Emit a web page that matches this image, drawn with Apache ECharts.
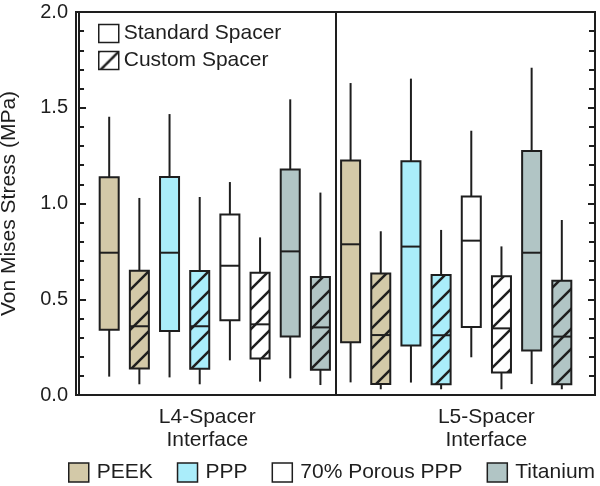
<!DOCTYPE html>
<html>
<head>
<meta charset="utf-8">
<script src="https://cdn.jsdelivr.net/npm/echarts@6/dist/echarts.min.js"></script>
<style>html,body{margin:0;padding:0;background:#fff}#c{width:600px;height:486px}</style>
</head>
<body>
<div id="c"></div>
<script>
// ---- data ----
const interfaces = ['L4-Spacer\nInterface', 'L5-Spacer\nInterface'];
const interfaceLabelPos = [4.25, 13.5];
const materials = ['PEEK', 'PPP', '70% Porous PPP', 'Titanium'];
const spacers = ['Standard Spacer', 'Custom Spacer'];
const yTicks = [0, 0.5, 1.0, 1.5, 2.0];
// each row: [min, q1, median, q3, max]; order: L4 std, L4 custom, L5 std, L5 custom
const peek = [
  [0.096, 0.341, 0.743, 1.137, 1.453],
  [0.056, 0.139, 0.359, 0.649, 1.029],
  [0.066, 0.275, 0.787, 1.224, 1.629],
  [0.030, 0.057, 0.313, 0.635, 0.855]
];
const ppp = [
  [0.092, 0.334, 0.743, 1.138, 1.467],
  [0.056, 0.137, 0.359, 0.648, 1.034],
  [0.065, 0.258, 0.775, 1.220, 1.652],
  [0.030, 0.056, 0.312, 0.627, 0.862]
];
const porousPPP = [
  [0.181, 0.390, 0.675, 0.943, 1.112],
  [0.070, 0.190, 0.369, 0.639, 0.823],
  [0.197, 0.355, 0.806, 1.037, 1.380],
  [0.030, 0.117, 0.348, 0.620, 0.776]
];
const titanium = [
  [0.087, 0.306, 0.750, 1.177, 1.544],
  [0.052, 0.132, 0.353, 0.616, 1.057],
  [0.057, 0.233, 0.743, 1.274, 1.709],
  [0.030, 0.056, 0.305, 0.597, 0.914]
];
const materialData = [peek, ppp, porousPPP, titanium];
const materialColors = ['#d3c9a8', '#aaedfa', '#ffffff', '#b1c5c5'];

// ---- styling helpers ----
const INK = '#1e1e1e';
function hatch(bg) {
  const T = 20;
  const cv = document.createElement('canvas');
  cv.width = T; cv.height = T;
  const g = cv.getContext('2d');
  g.fillStyle = bg; g.fillRect(0, 0, T, T);
  g.strokeStyle = INK; g.lineWidth = 2.5; g.lineCap = 'square';
  for (let k = -1; k <= 1; k++) {
    g.beginPath(); g.moveTo(k * T, T); g.lineTo(k * T + T, 0); g.stroke();
  }
  return { image: cv, repeat: 'repeat' };
}

const series = materials.map((name, m) => {
  const rows = materialData[m];
  const data = rows.map((r, j) => {
    const iface = Math.floor(j / 2), sp = j % 2;
    return [iface * 8 + m * 2 + sp + 1, r[0], r[1], r[2], r[3], r[4], sp];
  });
  const pat = hatch(materialColors[m]);
  return {
    name: name,
    type: 'custom',
    itemStyle: { color: materialColors[m] },
    encode: { x: 0, y: [1, 5] },
    data: data,
    renderItem: function (params, api) {
      const x = api.value(0);
      const w = api.size([0.63, 0])[0];
      const pMin = api.coord([x, api.value(1)]);
      const pQ1 = api.coord([x, api.value(2)]);
      const pMed = api.coord([x, api.value(3)]);
      const pQ3 = api.coord([x, api.value(4)]);
      const pMax = api.coord([x, api.value(5)]);
      const hatched = api.value(6) === 1;
      const lw = 2;
      return {
        type: 'group',
        children: [
          { type: 'line', shape: { x1: pMax[0], y1: pMax[1], x2: pQ3[0], y2: pQ3[1] }, style: { stroke: INK, lineWidth: lw } },
          { type: 'line', shape: { x1: pQ1[0], y1: pQ1[1], x2: pMin[0], y2: pMin[1] }, style: { stroke: INK, lineWidth: lw } },
          { type: 'rect', shape: { x: pQ3[0] - w / 2, y: pQ3[1], width: w, height: pQ1[1] - pQ3[1] },
            style: { fill: hatched ? pat : materialColors[m], stroke: INK, lineWidth: lw } },
          { type: 'line', shape: { x1: pMed[0] - w / 2, y1: pMed[1], x2: pMed[0] + w / 2, y2: pMed[1] }, style: { stroke: INK, lineWidth: lw } }
        ]
      };
    }
  };
});
// divider between interfaces
series[0].markLine = {
  silent: true, symbol: 'none', label: { show: false },
  lineStyle: { color: INK, width: 2, type: 'solid' },
  data: [{ xAxis: 8.5 }]
};
// legend-only series for spacer type
spacers.forEach(s => series.push({ name: s, type: 'custom', data: [], renderItem: () => null }));

const chart = echarts.init(document.getElementById('c'), null, { renderer: 'canvas' });
const FONT = 'Liberation Sans, Arial, sans-serif';
chart.setOption({
  animation: false,
  textStyle: { fontFamily: FONT, color: INK },
  grid: { left: 76, right: 5, top: 12, bottom: 91, containLabel: false, outerBoundsMode: 'none',
          show: true, borderColor: INK, borderWidth: 2, backgroundColor: 'transparent' },
  legend: [
    {
      orient: 'vertical', left: 98, top: 23, padding: 0, itemWidth: 20, itemHeight: 18, itemGap: 6,
      selectedMode: false, icon: 'rect',
      textStyle: { fontSize: 21, color: INK, fontFamily: FONT },
      data: [
        { name: spacers[0], itemStyle: { color: '#ffffff', borderColor: INK, borderWidth: 1.5 } },
        { name: spacers[1], itemStyle: { color: hatch('#ffffff'), borderColor: INK, borderWidth: 1.5 } }
      ]
    },
    {
      orient: 'horizontal', left: 68, top: 462, width: 532, padding: 0, itemWidth: 20, itemHeight: 19, itemGap: 24,
      selectedMode: false, icon: 'rect',
      textStyle: { fontSize: 21, color: INK, fontFamily: FONT, padding: [0, 0, 0, 3] },
      data: materials.map((n, m) => ({ name: n, itemStyle: { color: materialColors[m], borderColor: INK, borderWidth: 1.5 } }))
    }
  ],
  xAxis: {
    type: 'value', min: -0.1, max: 17.1,
    splitLine: { show: false },
    axisLine: { show: true, onZero: false, lineStyle: { color: INK, width: 2 } },
    axisTick: { show: false },
    axisLabel: {
      customValues: interfaceLabelPos,
      formatter: function (v) { const i = interfaceLabelPos.indexOf(v); return i >= 0 ? interfaces[i] : ''; },
      fontSize: 21, lineHeight: 23, color: INK, margin: 11, fontFamily: FONT
    }
  },
  yAxis: [
    {
      type: 'value', min: yTicks[0], max: yTicks[yTicks.length - 1], interval: 0.5,
      name: 'Von Mises Stress (MPa)', nameLocation: 'middle', nameGap: 56,
      nameTextStyle: { fontSize: 21, color: INK, fontFamily: FONT },
      splitLine: { show: false },
      axisLine: { show: true, lineStyle: { color: INK, width: 2 } },
      axisTick: { show: true, inside: true, length: 7, lineStyle: { color: INK, width: 2 } },
      minorTick: { show: true, splitNumber: 5, length: 5, lineStyle: { color: INK, width: 2 } },
      axisLabel: { fontSize: 20, color: INK, margin: 8, fontFamily: FONT, formatter: v => v.toFixed(1) }
    },
    {
      type: 'value', position: 'right', min: 0, max: 2, interval: 0.5,
      splitLine: { show: false },
      axisLine: { show: true, lineStyle: { color: INK, width: 2 } },
      axisTick: { show: true, inside: true, length: 7, lineStyle: { color: INK, width: 2 } },
      minorTick: { show: true, splitNumber: 5, length: 6, lineStyle: { color: INK, width: 2 } },
      axisLabel: { show: false }
    }
  ],
  series: series
});
</script>
</body>
</html>
